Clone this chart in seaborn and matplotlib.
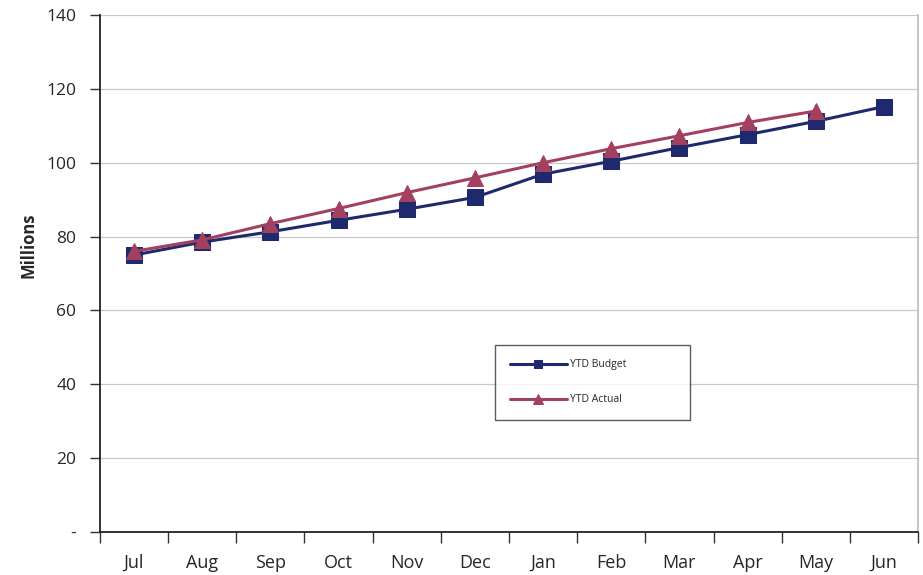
import numpy as np
import pandas as pd
import matplotlib
matplotlib.use('Agg')
import matplotlib.pyplot as plt
from matplotlib.ticker import FixedLocator, FuncFormatter
import seaborn as sns

sns.set_style('white')
plt.rcParams['font.family'] = ['Open Sans', 'DejaVu Sans']

months = ['Jul', 'Aug', 'Sep', 'Oct', 'Nov', 'Dec',
          'Jan', 'Feb', 'Mar', 'Apr', 'May', 'Jun']
ytd_budget = [75.0, 78.5, 81.3, 84.4, 87.4, 90.6,
              96.9, 100.4, 104.1, 107.6, 111.2, 115.2]
ytd_actual = [76.0, 79.1, 83.5, 87.6, 91.9, 95.9,
              100.0, 103.8, 107.3, 110.9, 114.0, np.nan]

budget_col = '#1f2a6e'
actual_col = '#a3405f'

df = pd.DataFrame({'month': months, 'budget': ytd_budget,
                   'actual': ytd_actual})

fig = plt.figure(figsize=(9.23, 5.75), dpi=100)
ax = fig.add_axes([0.1083, 0.0748, 0.8863, 0.8991])

sns.lineplot(data=df, x='month', y='budget', ax=ax, color=budget_col,
             lw=2.2, marker='s', markersize=11, markeredgecolor=budget_col,
             label='YTD Budget', sort=False)
sns.lineplot(data=df.dropna(), x='month', y='actual', ax=ax,
             color=actual_col, lw=2.2, marker='^', markersize=12,
             markeredgecolor=actual_col, label='YTD Actual', sort=False)

ax.set_xlim(-0.5, len(months) - 0.5)
ax.set_ylim(0, 140)
ax.set_yticks(np.arange(0, 141, 20))
ax.yaxis.set_major_formatter(FuncFormatter(
    lambda v, p: '-' if v == 0 else '{:d}'.format(int(v))))
ax.grid(axis='y', color='#c8c8c8', lw=0.9)
ax.set_axisbelow(True)

# category ticks between the months
ax.xaxis.set_minor_locator(FixedLocator(np.arange(-0.5, len(months), 1)))
ax.tick_params(axis='x', which='major', length=0, pad=16, labelsize=13)
ax.tick_params(axis='x', which='minor', length=8, width=1, color='#333333',
               direction='out', bottom=True)
ax.tick_params(axis='y', which='major', length=7, width=1, color='#333333',
               direction='out', left=True, labelsize=12.5, pad=10)

ax.set_xlabel('')
ax.set_ylabel('Millions', fontsize=12, fontweight='bold')
ax.yaxis.set_label_coords(-0.076, 0.555)

for s in ['left', 'bottom']:
    ax.spines[s].set_color('#222222')
    ax.spines[s].set_linewidth(1.3)
ax.spines['top'].set_visible(False)
ax.spines['right'].set_color('#bbbbbb')
ax.spines['right'].set_linewidth(1.2)

leg = ax.legend(loc='lower left', bbox_to_anchor=(0.483, 0.217, 0.238, 0.145),
                mode='expand', fontsize=7.5, frameon=True, fancybox=False,
                edgecolor='#333333', handlelength=5.5, labelspacing=2.3,
                markerscale=0.55, borderpad=1.4, handletextpad=0.3,
                borderaxespad=0)
leg.get_frame().set_linewidth(1.0)

fig.savefig('out.png', dpi=100)
